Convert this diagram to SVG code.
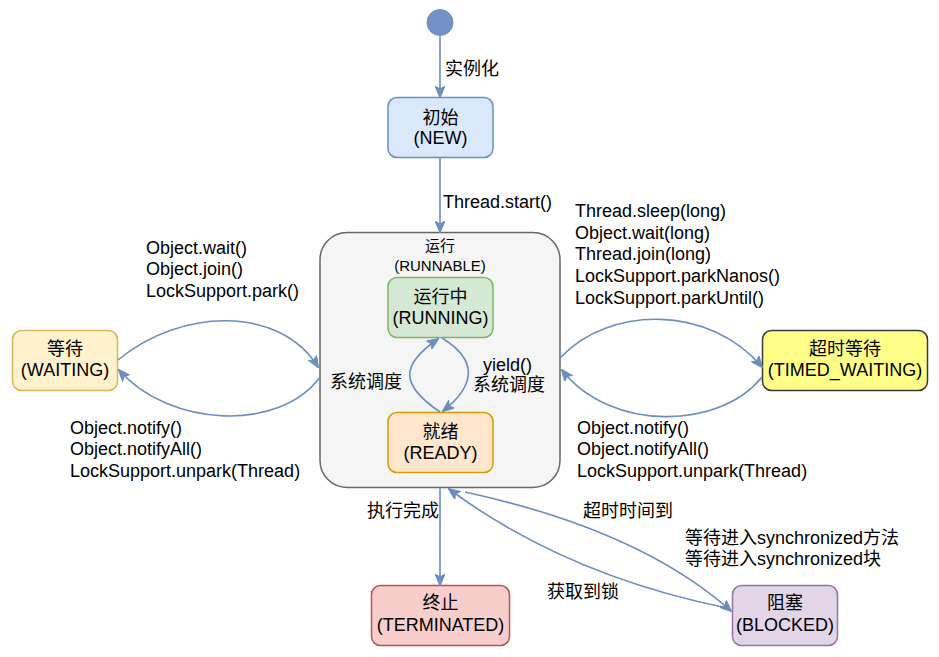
<svg xmlns="http://www.w3.org/2000/svg" width="939" height="657" viewBox="0 0 939 657">
<defs>
<marker id="arr" viewBox="0 0 12 10" refX="11" refY="5" markerWidth="12" markerHeight="10" markerUnits="userSpaceOnUse" orient="auto">
<path d="M0,0 L12,5 L0,10 L3,5 Z" fill="#6c8ebf" stroke="#6c8ebf" stroke-width="1"/>
</marker>
</defs>
<style>
text{font-family:"Liberation Sans","Noto Sans CJK SC",Arial,sans-serif;font-size:18px;fill:#000}
.c{text-anchor:middle}
.s{font-size:15px}
.e{fill:none;stroke:#6c8ebf;stroke-width:1.6;marker-end:url(#arr)}
.box{stroke-width:1.5}
</style>
<rect width="939" height="657" fill="#ffffff"/>

<g id="start">
<circle cx="440" cy="22.5" r="13" fill="#7391c5" stroke="#6c8ebf" stroke-width="1"/>
</g>

<g id="new">
<rect class="box" x="388" y="97.5" width="105" height="60" rx="9" fill="#dae8fc" stroke="#6c8ebf"/>
<text class="c" x="440.5" y="124">初始</text>
<text class="c" x="440.5" y="144">(NEW)</text>
</g>

<g id="runnable">
<rect class="box" x="320" y="232.5" width="240" height="255" rx="27" fill="#f5f5f5" stroke="#666666"/>
<text class="c s" x="440" y="251">运行</text>
<text class="c s" x="440" y="271">(RUNNABLE)</text>
</g>

<g id="running">
<rect class="box" x="388" y="277.5" width="105" height="60" rx="9" fill="#d5e8d4" stroke="#82b366"/>
<text class="c" x="440.5" y="303">运行中</text>
<text class="c" x="440.5" y="324">(RUNNING)</text>
</g>

<g id="ready">
<rect class="box" x="388" y="412.5" width="105" height="60" rx="9" fill="#ffe6cc" stroke="#d79b00"/>
<text class="c" x="440.5" y="438">就绪</text>
<text class="c" x="440.5" y="459">(READY)</text>
</g>

<g id="waiting">
<rect class="box" x="12.5" y="330.5" width="105" height="60" rx="9" fill="#fff2cc" stroke="#d6b656"/>
<text class="c" x="65" y="355">等待</text>
<text class="c" x="65" y="376">(WAITING)</text>
</g>

<g id="timed_waiting">
<rect class="box" x="762.5" y="330.5" width="165" height="60" rx="9" fill="#ffff88" stroke="#36393d"/>
<text class="c" x="845" y="355">超时等待</text>
<text class="c" x="845" y="376">(TIMED_WAITING)</text>
</g>

<g id="terminated">
<rect class="box" x="371.5" y="585.5" width="138" height="60" rx="9" fill="#f8cecc" stroke="#b85450"/>
<text class="c" x="440.5" y="609">终止</text>
<text class="c" x="440.5" y="631">(TERMINATED)</text>
</g>

<g id="blocked">
<rect class="box" x="732.5" y="585.5" width="105" height="60" rx="9" fill="#e1d5e7" stroke="#9673a6"/>
<text class="c" x="785" y="609">阻塞</text>
<text class="c" x="785" y="631">(BLOCKED)</text>
</g>

<g id="connectors">
<path class="e" d="M440 36 L440 97"/>
<path class="e" d="M440 157.5 L440 232"/>
<path class="e" d="M440 412 C400 385 400 365 438 339"/>
<path class="e" d="M442 338 C478 360 476 385 443 411"/>
<path class="e" d="M118 360 C180 308 280 305 318 367"/>
<path class="e" d="M320 377 C280 432 170 428 119 370"/>
<path class="e" d="M560 358 C610 305 710 305 762 367"/>
<path class="e" d="M762 377 C720 430 610 432 562 370"/>
<path class="e" d="M440 487.5 L440 585"/>
<path class="e" d="M465 492 Q640 530 731 611"/>
<path class="e" d="M727 608 Q565 575 449 489"/>
</g>

<g id="labels">
<text x="445" y="75">实例化</text>
<text x="443" y="208">Thread.start()</text>
<text x="330" y="388">系统调度</text>
<text x="483" y="371">yield()</text>
<text x="473" y="391">系统调度</text>
<text x="146" y="254">Object.wait()</text>
<text x="146" y="275">Object.join()</text>
<text x="146" y="297">LockSupport.park()</text>
<text x="70" y="434">Object.notify()</text>
<text x="70" y="455">Object.notifyAll()</text>
<text x="70" y="477">LockSupport.unpark(Thread)</text>
<text x="575" y="217">Thread.sleep(long)</text>
<text x="575" y="238.5">Object.wait(long)</text>
<text x="575" y="260">Thread.join(long)</text>
<text x="575" y="282">LockSupport.parkNanos()</text>
<text x="575" y="303.5">LockSupport.parkUntil()</text>
<text x="577" y="434">Object.notify()</text>
<text x="577" y="455">Object.notifyAll()</text>
<text x="577" y="477">LockSupport.unpark(Thread)</text>
<text x="367" y="517">执行完成</text>
<text x="583" y="517">超时时间到</text>
<text x="685" y="544">等待进入synchronized方法</text>
<text x="685" y="565">等待进入synchronized块</text>
<text x="547" y="598">获取到锁</text>
</g>
</svg>
